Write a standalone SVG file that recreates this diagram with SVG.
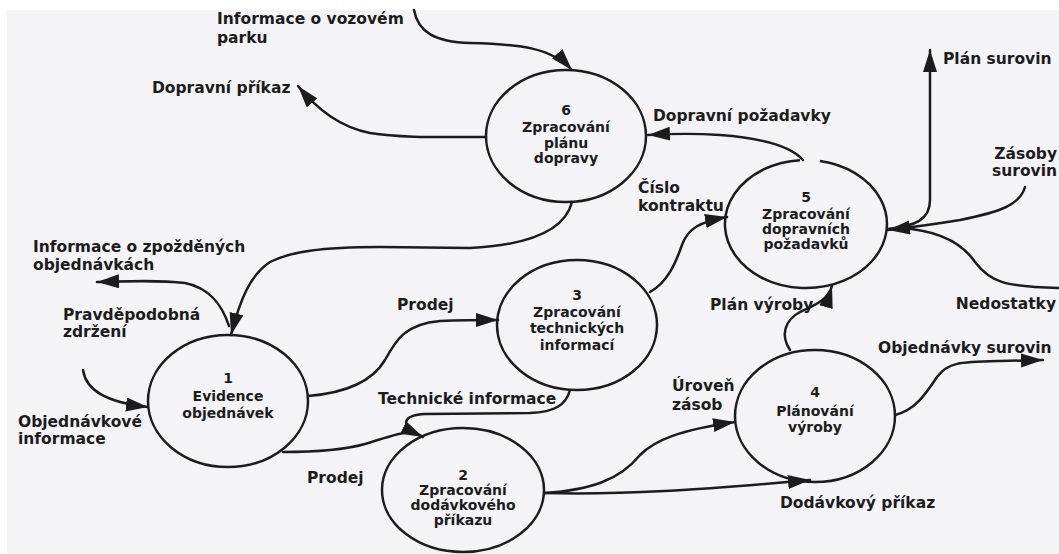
<svg xmlns="http://www.w3.org/2000/svg" width="1059" height="554" viewBox="0 0 1059 554">
  <style>
    .proc ellipse, .proc path { fill: none; stroke: #1c1c1c; stroke-width: 2.5; }
    .proc text { font-family: "DejaVu Sans", "Liberation Sans", sans-serif; font-weight: bold; font-size: 14px; fill: #1c1c1c; text-anchor: middle; }
    .flow path { fill: none; stroke: #1c1c1c; stroke-width: 2.5; stroke-linecap: round; }
    .flow path.arr { marker-end: url(#head); }
    .lbl text { font-family: "DejaVu Sans", "Liberation Sans", sans-serif; font-weight: bold; font-size: 15.5px; fill: #1c1c1c; }
  </style>
  <defs>
    <marker id="head" markerUnits="userSpaceOnUse" markerWidth="24" markerHeight="16" refX="22" refY="7" orient="auto">
      <path d="M0,0 L22,7 L0,14 Z" fill="#1c1c1c"/>
    </marker>
  </defs>

  <!-- paper -->
  <rect x="0" y="0" width="1059" height="554" fill="#ffffff"/>
  <rect x="7" y="10" width="1052" height="544" fill="#f4f4f7"/>

  <!-- data flows -->
  <g id="connectors" class="flow">
    <path class="arr" d="M414 10 C418 32 435 42 470 43 C520 44 552 48 572 70"/>
    <path class="arr" d="M486 137 C440 137 400 138 370 133 C340 127 318 110 298 86"/>
    <path class="arr" d="M803 160 C790 145 760 138 720 135 C690 133 665 134 648 135"/>
    <path class="arr" d="M572 202 C565 230 530 245 470 248 L380 247 C320 247 290 252 270 262 C250 275 240 300 231 335"/>
    <path class="arr" d="M229 326 C222 305 210 288 185 283 C160 280 130 281 97 282"/>
    <path class="arr" d="M83 370 C86 390 105 402 148 407"/>
    <path class="arr" d="M308 396 C345 393 372 382 385 360 C396 340 405 324 440 321 C465 320 485 320 498 320"/>
    <path d="M283 452 C310 452 340 451 365 444 C385 438 398 433 410 432"/>
    <path class="arr" d="M570 390 C566 405 555 412 530 413 L425 414 C405 415 396 424 423 437"/>
    <path class="arr" d="M650 292 C668 282 676 262 682 245 C688 228 700 222 727 217"/>
    <path class="arr" d="M545 493 C590 490 620 480 640 455 C655 440 680 430 735 422"/>
    <path class="arr" d="M545 493 C620 495 700 490 810 480"/>
    <path class="arr" d="M790 350 C780 335 785 320 800 312 C815 305 828 300 832 286"/>
    <path class="arr" d="M895 415 C915 410 925 395 937 377 C948 362 960 362 1000 361 L1043 360"/>
    <path class="arr" d="M888 229 C915 226 930 220 930 200 L930 50"/>
    <path class="arr" d="M1025 187 C1020 205 1000 212 960 220 C930 225 905 228 888 230"/>
    <path d="M900 228 C935 230 960 240 975 262 C990 282 1005 287 1059 288"/>
  </g>

  <!-- processes -->
  <g id="p1" class="proc">
    <ellipse cx="228" cy="401" rx="80" ry="66"/>
    <text x="228" y="383">1</text>
    <text x="228" y="401">Evidence</text>
    <text x="228" y="418">objednávek</text>
  </g>
  <g id="p2" class="proc">
    <ellipse cx="463" cy="490" rx="81" ry="62"/>
    <text x="463" y="480">2</text>
    <text x="463" y="495">Zpracování</text>
    <text x="463" y="510">dodávkového</text>
    <text x="463" y="525">příkazu</text>
  </g>
  <g id="p3" class="proc">
    <ellipse cx="577" cy="325" rx="80" ry="65"/>
    <text x="577" y="300">3</text>
    <text x="577" y="317">Zpracování</text>
    <text x="577" y="333">technických</text>
    <text x="577" y="350">informací</text>
  </g>
  <g id="p4" class="proc">
    <ellipse cx="815" cy="416" rx="80" ry="66"/>
    <text x="815" y="397">4</text>
    <text x="815" y="416">Plánování</text>
    <text x="815" y="432">výroby</text>
  </g>
  <g id="p5" class="proc">
    <path d="M820 161 A81 64 0 1 1 800 160.2"/>
    <text x="806" y="202">5</text>
    <text x="806" y="219">Zpracování</text>
    <text x="806" y="234">dopravních</text>
    <text x="806" y="249">požadavků</text>
  </g>
  <g id="p6" class="proc">
    <ellipse cx="566" cy="136" rx="80" ry="66"/>
    <text x="566" y="115">6</text>
    <text x="566" y="132">Zpracování</text>
    <text x="566" y="148">plánu</text>
    <text x="566" y="163">dopravy</text>
  </g>

  <!-- flow labels -->
  <g id="labels" class="lbl">
    <text x="217" y="24">Informace o vozovém</text>
    <text x="217" y="43">parku</text>
    <text x="152" y="93">Dopravní příkaz</text>
    <text x="653" y="121">Dopravní požadavky</text>
    <text x="638" y="193">Číslo</text>
    <text x="638" y="211">kontraktu</text>
    <text x="943" y="64">Plán surovin</text>
    <text x="1057" y="159" text-anchor="end">Zásoby</text>
    <text x="1057" y="176" text-anchor="end">surovin</text>
    <text x="33" y="252">Informace o zpožděných</text>
    <text x="33" y="270">objednávkách</text>
    <text x="63" y="320">Pravděpodobná</text>
    <text x="63" y="337">zdržení</text>
    <text x="18" y="427">Objednávkové</text>
    <text x="18" y="444">informace</text>
    <text x="397" y="310">Prodej</text>
    <text x="307" y="483">Prodej</text>
    <text x="378" y="404">Technické informace</text>
    <text x="672" y="391">Úroveň</text>
    <text x="672" y="410">zásob</text>
    <text x="710" y="310">Plán výroby</text>
    <text x="1056" y="309" text-anchor="end">Nedostatky</text>
    <text x="878" y="353">Objednávky surovin</text>
    <text x="780" y="508">Dodávkový příkaz</text>
  </g>
</svg>
